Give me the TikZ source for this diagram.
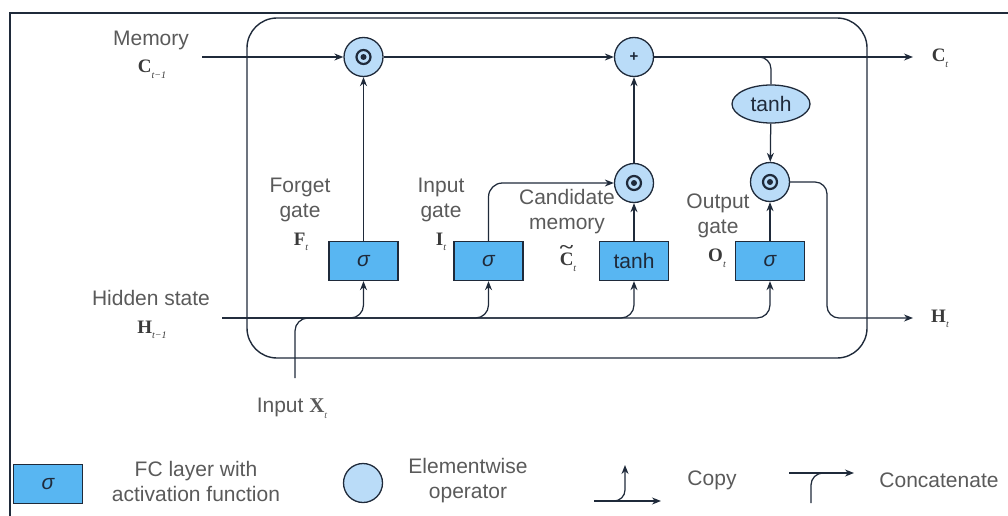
\documentclass[tikz,border=0pt]{standalone}
\usepackage{fontspec}
\usepackage{graphicx}
\setmainfont{Liberation Sans}
\newfontfamily\symfont{Liberation Serif}
\usetikzlibrary{arrows.meta,shapes.geometric}

\definecolor{linec}{HTML}{1F2A3A}
\definecolor{boxfill}{HTML}{58B6F2}
\definecolor{opfill}{HTML}{BADCF8}
\definecolor{labelc}{HTML}{5A5A5A}
\definecolor{symc}{HTML}{3A3A3A}

% bold serif variable with italic subscript
\newcommand\vsym[2]{{\symfont\bfseries #1}\raisebox{-0.55ex}{\fontsize{10}{10}\selectfont\symfont\itshape #2}}
% bold serif C with a wide tilde set well above it
\newcommand\tildeC{{\symfont\bfseries\ooalign{C\cr\hidewidth\raisebox{0.62em}{\scalebox{1.35}[1]{\char"7E}}\hidewidth\cr}}}

\tikzset{
  wire/.style={draw=linec, line width=1.25pt},
  arr/.style={wire, -{Stealth[length=9pt,width=7pt]}},
  fc/.style={draw=linec, fill=boxfill, line width=1.3pt, minimum width=69pt,
    minimum height=39pt, inner sep=0pt, text=linec, font=\fontsize{21}{21}\selectfont},
  op/.style={circle, draw=linec, fill=opfill, line width=1.3pt, minimum size=39pt, inner sep=0pt},
  odot/.style={op, path picture={
      \draw[linec, line width=2.2pt] (path picture bounding box.center) circle (7pt);
      \fill[linec] (path picture bounding box.center) circle (3pt);}},
  act/.style={ellipse, draw=linec, fill=opfill, line width=1.3pt, minimum width=78pt,
    minimum height=38pt, inner sep=0pt, text=linec, font=\fontsize{21}{21}\selectfont},
  lbl/.style={text=labelc, font=\fontsize{21}{25}\selectfont, align=center, inner sep=0pt},
  var/.style={text=symc, font=\fontsize{19}{19}\selectfont, inner sep=0pt},
}

\begin{document}
\begin{tikzpicture}[x=1pt, y=-1pt]
\useasboundingbox (0,0) rectangle (1008,516);

% outer frame
\draw[line width=1.8pt, linec] (10,516) -- (10,13) -- (1008,13);
% cell boundary
\draw[line width=1.4pt, linec, rounded corners=30pt] (247,18) rectangle (867,358);

% operators
\node[odot] (fmul) at (363.5,57) {};
\node[op, font=\fontsize{15}{15}\selectfont\bfseries, text=linec] (add) at (634,57) {+};
\node[odot] (cmul) at (634,183) {};
\node[odot] (omul) at (770,182) {};
\node[act] (tanhC) at (771,104) {tanh};

% fully connected layers
\node[fc] (fgate) at (363.5,261) {\itshape σ};
\node[fc] (igate) at (488.5,261) {\itshape σ};
\node[fc] (cgate) at (634,261) {tanh};
\node[fc] (ogate) at (770,261) {\itshape σ};

% free ends of the connectors
\coordinate (memin) at (202,57);
\coordinate (ctout) at (913,57);
\coordinate (brC) at (700,57);
\coordinate (hin) at (222,318);
\coordinate (xin) at (295,378);
\coordinate (xjoin) at (330,318);
\coordinate (hcorner) at (827,318);
\coordinate (htout) at (913,318);

% memory path
\draw[arr] (memin) -- (fmul);
\draw[arr] (fmul) -- (add);
\draw[arr] (add) -- (ctout);
\draw[wire, rounded corners=12pt] (brC) -| (tanhC.north);
\draw[arr] (tanhC) -- (omul);

% gates
\draw[arr] (fgate) -- (fmul);
\draw[arr, rounded corners=14pt] (igate.north) |- (cmul.west);
\draw[arr] (cgate) -- (cmul);
\draw[arr] (cmul) -- (add);
\draw[arr] (ogate) -- (omul);
\draw[arr, rounded corners=12pt] (omul.east) -| (hcorner) -- (htout);

% hidden state and input, copied to every layer
\draw[arr, rounded corners=13pt] (hin) -| (fgate.south);
\draw[arr, rounded corners=13pt] (hin) -| (igate.south);
\draw[arr, rounded corners=13pt] (hin) -| (cgate.south);
\draw[arr, rounded corners=13pt] (hin) -| (ogate.south);
\draw[wire, rounded corners=13pt] (xin) |- (xjoin);

% labels
\node[lbl] (lmem) at (151,40) {Memory};
\node[var] (vmem) at (152,69) {\vsym{C}{t−1}};
\node[var] (vct) at (940,58) {\vsym{C}{t}};
\node[lbl] (lhid) at (151,298) {Hidden state};
\node[var] (vhid) at (152,330) {\vsym{H}{t−1}};
\node[var] (vht) at (940,319) {\vsym{H}{t}};
\node[lbl] (lx) at (292,408) {Input \vsym{X}{t}};

\node[lbl] (lf) at (300,200) {Forget\\gate};
\node[var] (vf) at (301,242) {\vsym{F}{t}};
\node[lbl] (li) at (441,200) {Input\\gate};
\node[var] (vi) at (441,242) {\vsym{I}{t}};
\node[lbl] (lc) at (567,212) {Candidate\\memory};
\node[var] (vc) at (568,262) {\tildeC\raisebox{-0.55ex}{\fontsize{10}{10}\selectfont\symfont\itshape t}};
\node[lbl] (lo) at (718,216) {Output\\gate};
\node[var] (vo) at (717,258) {\vsym{O}{t}};

% legend
\node[fc] (legfc) at (48,484) {\itshape σ};
\node[lbl] (legfct) at (196,481) {FC layer with\\activation function};
\node[op] (legop) at (363,483) {};
\node[lbl] (legopt) at (468,481) {Elementwise\\operator};
\coordinate (cpA) at (594,501);
\coordinate (cpB) at (661,501);
\coordinate (cpC) at (625,465);
\draw[arr] (cpA) -- (cpB);
\draw[arr, rounded corners=11pt] (cpA) -| (cpC);
\node[lbl] (legcp) at (712,480) {Copy};
\coordinate (ccA) at (789,473);
\coordinate (ccB) at (854,473);
\coordinate (ccC) at (811,503);
\coordinate (ccD) at (830,473);
\draw[arr] (ccA) -- (ccB);
\draw[wire, rounded corners=12pt] (ccC) |- (ccD);
\node[lbl] (legcc) at (939,480) {Concatenate};
\end{tikzpicture}
\end{document}
